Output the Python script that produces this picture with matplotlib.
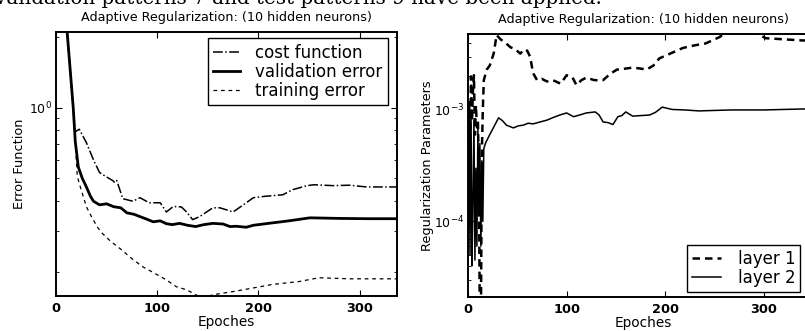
import numpy as np
import matplotlib
matplotlib.use('Agg')
from matplotlib import pyplot as plt

plt.rcParams['font.family'] = ['DejaVu Sans']
plt.rcParams['mathtext.fontset'] = 'dejavusans'
plt.rcParams['mathtext.default'] = 'regular'

# ---- left panel: error curves ----
val_ep = [0, 5, 11, 17, 19, 22, 26, 30, 34, 37, 43, 50, 57, 64, 70, 77, 83, 90, 96, 103,
          109, 115, 122, 130, 138, 146, 155, 165, 172, 178, 188, 195, 210, 230, 251, 280, 310, 337]
val = [8.0, 4.0, 2.1, 1.0, 0.72, 0.56, 0.50, 0.46, 0.42, 0.40, 0.386, 0.39, 0.379, 0.375, 0.357,
       0.352, 0.344, 0.335, 0.327, 0.33, 0.321, 0.318, 0.322, 0.316, 0.312, 0.318, 0.322, 0.32,
       0.312, 0.313, 0.31, 0.316, 0.322, 0.33, 0.34, 0.338, 0.337, 0.337]

cost_ep = [0, 5, 11, 17, 19, 23, 30, 37, 43, 49, 56, 58, 60, 66, 76, 83, 92, 103, 109, 116, 124,
           129, 135, 142, 155, 162, 175, 188, 195, 207, 224, 234, 248, 255, 274, 290, 307, 337]
cost = [8.0, 4.0, 2.1, 1.0, 0.79, 0.81, 0.71, 0.60, 0.53, 0.51, 0.49, 0.48, 0.49, 0.41, 0.40,
        0.414, 0.394, 0.394, 0.36, 0.38, 0.378, 0.36, 0.334, 0.344, 0.375, 0.375, 0.36, 0.394,
        0.414, 0.42, 0.426, 0.448, 0.466, 0.47, 0.466, 0.468, 0.46, 0.46]

tr_ep = [0, 5, 11, 17, 21, 24, 30, 35, 41, 45, 54, 64, 76, 86, 96, 109, 119, 129, 138, 145,
         155, 175, 195, 214, 240, 260, 290, 337]
tr = [8.0, 4.0, 2.1, 1.0, 0.51, 0.46, 0.379, 0.344, 0.31, 0.294, 0.27, 0.25, 0.226, 0.21,
      0.199, 0.185, 0.173, 0.168, 0.16, 0.155, 0.16, 0.165, 0.171, 0.177, 0.182, 0.189,
      0.187, 0.187]

# ---- right panel: regularization parameters ----
l1_ep = [0, 1, 2, 3, 4, 5, 6, 7, 8, 9, 10, 11, 12, 13, 14, 15, 16, 19, 22, 26, 29, 33, 38, 43,
         48, 53, 57, 60, 63, 66, 70, 75, 80, 86, 94, 100, 106, 110, 115, 120, 128, 137, 144,
         151, 160, 167, 175, 181, 188, 194, 205, 218, 230, 241, 255, 262, 290, 302, 339, 355]
l1 = [1e-4, 1.2e-3, 3e-4, 2.0e-3, 8e-4, 1.5e-3, 2.05e-3, 6e-4, 1.1e-3, 7e-4, 8e-4, 3e-4,
      1e-5, 1e-5, 4e-4, 1.0e-3, 1.85e-3, 2.3e-3, 2.5e-3, 3.2e-3, 4.7e-3, 4.3e-3, 4.0e-3,
      3.65e-3, 3.5e-3, 3.2e-3, 3.5e-3, 3.4e-3, 3.0e-3, 2.14e-3, 1.85e-3, 1.9e-3, 1.8e-3,
      1.85e-3, 1.72e-3, 2.05e-3, 1.95e-3, 1.67e-3, 1.85e-3, 1.95e-3, 1.85e-3, 1.85e-3, 2.1e-3,
      2.3e-3, 2.35e-3, 2.4e-3, 2.35e-3, 2.3e-3, 2.5e-3, 2.9e-3, 3.2e-3, 3.6e-3, 3.8e-3,
      3.95e-3, 4.5e-3, 5.0e-3, 5.0e-3, 4.4e-3, 4.2e-3, 4.2e-3]

l2_ep = [0, 1, 2, 3, 4, 5, 6, 7, 8, 9, 10, 11, 12, 13, 14, 15, 16, 18, 22, 26, 31, 35, 39, 46,
         51, 56, 61, 66, 73, 80, 87, 93, 100, 107, 113, 120, 129, 133, 137, 142, 147, 152, 156,
         160, 167, 175, 184, 190, 197, 207, 220, 234, 250, 268, 300, 339, 355]
l2 = [1.0e-4, 9.0e-4, 5.0e-5, 1.0e-3, 4.0e-5, 1.5e-4, 8.0e-4, 4.5e-5, 3.0e-4, 6.0e-5, 7.0e-4,
      1.2e-4, 5.0e-4, 6.0e-5, 3.5e-4, 1.0e-4, 4.5e-4, 5.1e-4, 6.0e-4, 7.0e-4, 8.5e-4, 8.0e-4,
      7.3e-4, 6.9e-4, 7.2e-4, 7.3e-4, 7.6e-4, 7.5e-4, 7.8e-4, 8.1e-4, 8.6e-4, 9.0e-4, 9.4e-4,
      8.7e-4, 9.0e-4, 9.4e-4, 9.6e-4, 9.0e-4, 7.8e-4, 7.7e-4, 7.4e-4, 8.7e-4, 8.9e-4, 9.6e-4,
      8.8e-4, 8.9e-4, 9.0e-4, 9.5e-4, 1.06e-3, 1.01e-3, 1.0e-3, 9.8e-4, 9.9e-4, 1.0e-3,
      1.0e-3, 1.02e-3, 1.02e-3]

title = 'Adaptive Regularization: (10 hidden neurons)'
xticks = [0, 100, 200, 300]

fig = plt.figure(figsize=(8.05, 3.31), dpi=100)
ax1 = fig.add_axes([0.0696, 0.1057, 0.4236, 0.7976])
ax2 = fig.add_axes([0.5814, 0.1027, 0.4348, 0.7946])

# cut-off line of page text above the figure
fig.text(-0.006, 0.989, 'validation patterns 7 and test patterns 9 have been applied.',
         family='DejaVu Serif', fontsize=14.3, va='baseline', ha='left')

ax1.plot(cost_ep, cost, color='k', lw=1.1, ls='-.', label='cost function')
ax1.plot(val_ep, val, color='k', lw=2.0, ls='-', label='validation error')
ax1.plot(tr_ep, tr, color='k', lw=0.9, ls=(0, (3, 3)), label='training error')
ax1.set_yscale('log')
ax1.set_xlim(0, 337)
ax1.set_ylim(0.158, 2.1)
ax1.set_yticks([1])
ax1.set_yticklabels(['$10^0$'])

ax2.plot(l1_ep, l1, color='k', lw=1.8, ls=(0, (3, 2)), label='layer 1')
ax2.plot(l2_ep, l2, color='k', lw=1.1, ls='-', label='layer 2')
ax2.set_yscale('log')
ax2.set_xlim(0, 355)
ax2.set_ylim(2.1e-5, 4.8e-3)
ax2.set_yticks([1e-4, 1e-3])
ax2.set_yticklabels(['$10^{-4}$', '$10^{-3}$'])

for ax in (ax1, ax2):
    ax.set_xticks(xticks)
    ax.tick_params(which='both', direction='in', top=True, right=True)
    ax.tick_params(which='major', length=4)
    ax.tick_params(axis='x', labelsize=9.3, pad=4)
    ax.tick_params(axis='y', labelsize=9, pad=3)
    ax.tick_params(which='minor', length=2)
    for lab in ax.get_xticklabels():
        lab.set_fontweight('bold')
    for s in ax.spines.values():
        s.set_linewidth(1.4)
    ax.set_title(title, fontsize=9.2, pad=8)
    ax.set_xlabel('Epoches', fontsize=9.8, labelpad=0)

ax1.set_ylabel('Error Function', fontsize=9.3, labelpad=2)
ax2.set_ylabel('Regularization Parameters', fontsize=9.3, labelpad=0)

leg1 = ax1.legend(loc='upper right', bbox_to_anchor=(0.974, 0.977), borderaxespad=0,
                  fontsize=12, handlelength=1.6, handletextpad=0.9, labelspacing=0.05,
                  fancybox=False, edgecolor='k', framealpha=1, borderpad=0.35)
leg1.get_frame().set_linewidth(1.0)
leg2 = ax2.legend(loc='lower right', bbox_to_anchor=(0.949, 0.019), borderaxespad=0,
                  fontsize=12, handlelength=1.75, handletextpad=1.0, labelspacing=0.05,
                  fancybox=False, edgecolor='k', framealpha=1, borderpad=0.3)
leg2.get_frame().set_linewidth(1.0)

fig.savefig('out.png', dpi=100)
